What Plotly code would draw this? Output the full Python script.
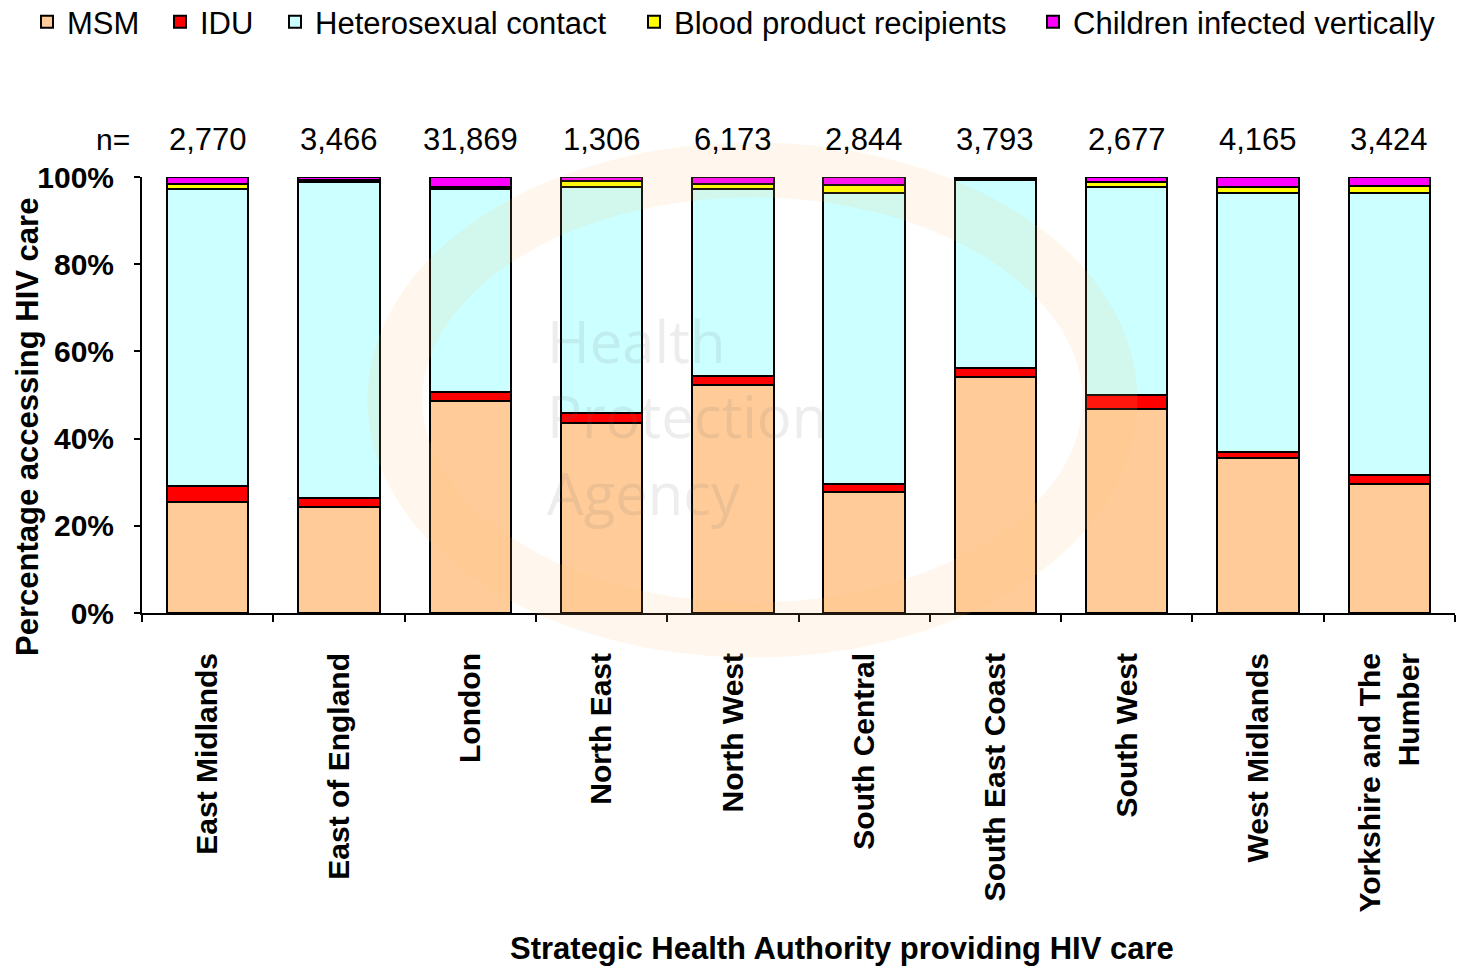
import plotly.graph_objects as go

regions = ["East Midlands", "East of England", "London", "North East", "North West",
           "South Central", "South East Coast", "South West", "West Midlands",
           "Yorkshire and The<br>Humber"]
n_labels = ["2,770", "3,466", "31,869", "1,306", "6,173", "2,844", "3,793", "2,677", "4,165", "3,424"]

msm = [25.5, 24.2, 48.7, 43.5, 52.3, 27.8, 54.1, 46.9, 35.5, 29.7]
idu = [3.7, 2.1, 2.0, 2.4, 2.1, 1.9, 2.0, 3.1, 1.4, 2.0]
hetero = [68.0, 72.5, 46.5, 51.8, 42.8, 66.6, 43.3, 47.7, 59.4, 64.6]
blood = [1.1, 0.5, 0.5, 1.3, 1.1, 1.8, 0.3, 1.2, 1.3, 1.6]
children = [1.7, 0.7, 2.3, 1.0, 1.7, 1.9, 0.3, 1.1, 2.4, 2.1]

series = [
    ("MSM", msm, "#FFCC99"),
    ("IDU", idu, "#FF0000"),
    ("Heterosexual contact", hetero, "#CCFFFF"),
    ("Blood product recipients", blood, "#FFFF00"),
    ("Children infected vertically", children, "#FF00FF"),
]

FONT = "Liberation Sans, Arial, sans-serif"
W, H = 1459, 967
# plot area in screen pixels: x 142..1455, y 177..613
L, T = 142, 177
R = W - 1455
B = H - 613
pw, ph = W - L - R, H - T - B

def px_x(p):
    return (p - L) / pw

def px_y(p):
    return (H - B - p) / ph

legend_left_px = [27, 160, 275, 634, 1033]

fig = go.Figure()
for i, (name, vals, col) in enumerate(series):
    lg = "legend" if i == 0 else f"legend{i+1}"
    fig.add_trace(go.Bar(
        x=regions, y=vals, name=name,
        marker=dict(color=col, line=dict(color="black", width=2)),
        width=0.62, legend=lg,
    ))

layout_legends = {}
for i, lx in enumerate(legend_left_px):
    key = "legend" if i == 0 else f"legend{i+1}"
    layout_legends[key] = dict(
        x=px_x(lx), y=px_y(22), xanchor="left", yanchor="middle",
        orientation="h", bgcolor="rgba(0,0,0,0)",
        font=dict(family=FONT, size=31, color="black"),
    )

fig.update_layout(
    barmode="stack",
    width=W, height=H,
    margin=dict(l=L, r=R, t=T, b=B, autoexpand=False),
    plot_bgcolor="rgba(0,0,0,0)", paper_bgcolor="white",
    showlegend=True,
    font=dict(family=FONT, color="black"),
    **layout_legends,
)

fig.update_yaxes(
    range=[0, 100], tickvals=[0, 20, 40, 60, 80, 100],
    ticktext=["0%", "20%", "40%", "60%", "80%", "100%"],
    showgrid=False, zeroline=False, showline=True, linecolor="black", linewidth=2,
    ticks="outside", ticklen=6, tickwidth=2, tickcolor="black",
    tickfont=dict(family=FONT, size=30, color="black", weight="bold"),
    ticklabelstandoff=14,
)
fig.update_xaxes(
    showgrid=False, showline=True, linecolor="black", linewidth=2,
    ticks="outside", ticklen=7, tickwidth=2, tickcolor="black",
    tickson="boundaries", tickangle=-90,
    tickfont=dict(family=FONT, size=30, color="black", weight="bold"),
    ticklabelstandoff=26,
)

annotations = [dict(text="n=", x=px_x(113), y=px_y(140), xref="paper", yref="paper",
                    xanchor="center", yanchor="middle",
                    showarrow=False, font=dict(family=FONT, size=30, color="black"))]
for reg, lab in zip(regions, n_labels):
    annotations.append(dict(text=lab, x=reg, y=px_y(140), xref="x", yref="paper",
                            xanchor="center", yanchor="middle",
                            showarrow=False, font=dict(family=FONT, size=31, color="black")))
annotations.append(dict(text="Strategic Health Authority providing HIV care",
                        x=px_x(842), y=px_y(948), xref="paper", yref="paper",
                        xanchor="center", yanchor="middle", showarrow=False,
                        font=dict(family=FONT, size=31, color="black", weight="bold")))
annotations.append(dict(text="Percentage accessing HIV care",
                        x=px_x(27), y=px_y(427), xref="paper", yref="paper",
                        xanchor="center", yanchor="middle", showarrow=False, textangle=-90,
                        font=dict(family=FONT, size=31, color="black", weight="bold")))
# watermark
for word, yy in [("Health", 340), ("Protection", 415), ("Agency", 492)]:
    annotations.append(dict(text=word, x=px_x(545), y=px_y(yy), xref="paper", yref="paper",
                            xanchor="left", yanchor="middle", showarrow=False,
                            font=dict(family="Open Sans", size=58, color="rgba(110,110,110,0.12)")))
fig.update_layout(annotations=annotations)

fig.add_shape(type="circle", xref="paper", yref="paper",
              x0=px_x(395), x1=px_x(1110), y0=px_y(630), y1=px_y(170),
              line=dict(color="rgba(255,190,110,0.12)", width=55), layer="above")

fig.write_html("out.html",
               config={"displayModeBar": False},
               post_script="document.body.style.margin='0';document.body.style.overflow='hidden';")
